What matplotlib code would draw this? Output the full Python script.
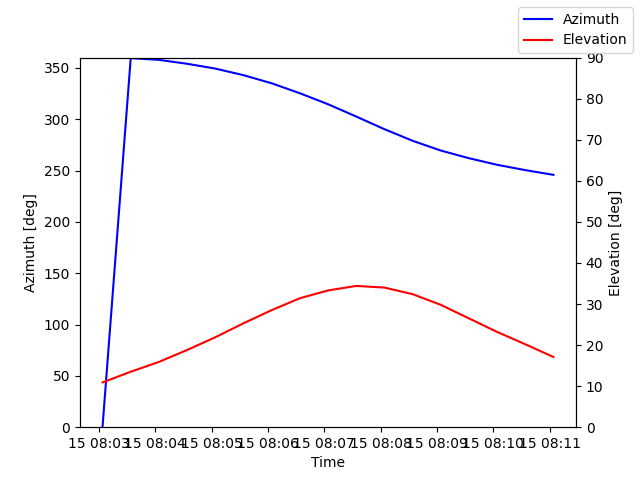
import numpy as np
import pandas as pd
import matplotlib
matplotlib.use("Agg")
import matplotlib.pyplot as plt

# samples every 30 s
times = pd.date_range("2024-01-15 08:03:04", periods=17, freq="30s")
azimuth = [0.5, 359.5, 357.8, 354.0, 349.3, 342.9, 335.0, 325.3, 314.6,
           302.6, 290.3, 279.0, 269.5, 262.0, 255.6, 250.4, 245.8]
elevation = [10.9, 13.5, 15.9, 18.8, 21.9, 25.3, 28.5, 31.4, 33.3,
             34.4, 34.0, 32.4, 29.8, 26.5, 23.2, 20.2, 17.1]

fig, ax = plt.subplots(figsize=(6.4, 4.8), dpi=100)
ax.plot(times, azimuth, color='blue', label='Azimuth')
ax.set_ylim(0, 360)
ax.set_xlabel('Time')
ax.set_ylabel('Azimuth [deg]')

ax2 = ax.twinx()
ax2.plot(times, elevation, color='red', label='Elevation')
ax2.set_ylim(0, 90)
ax2.set_ylabel('Elevation [deg]')

fig.legend()
fig.savefig('out.png')
